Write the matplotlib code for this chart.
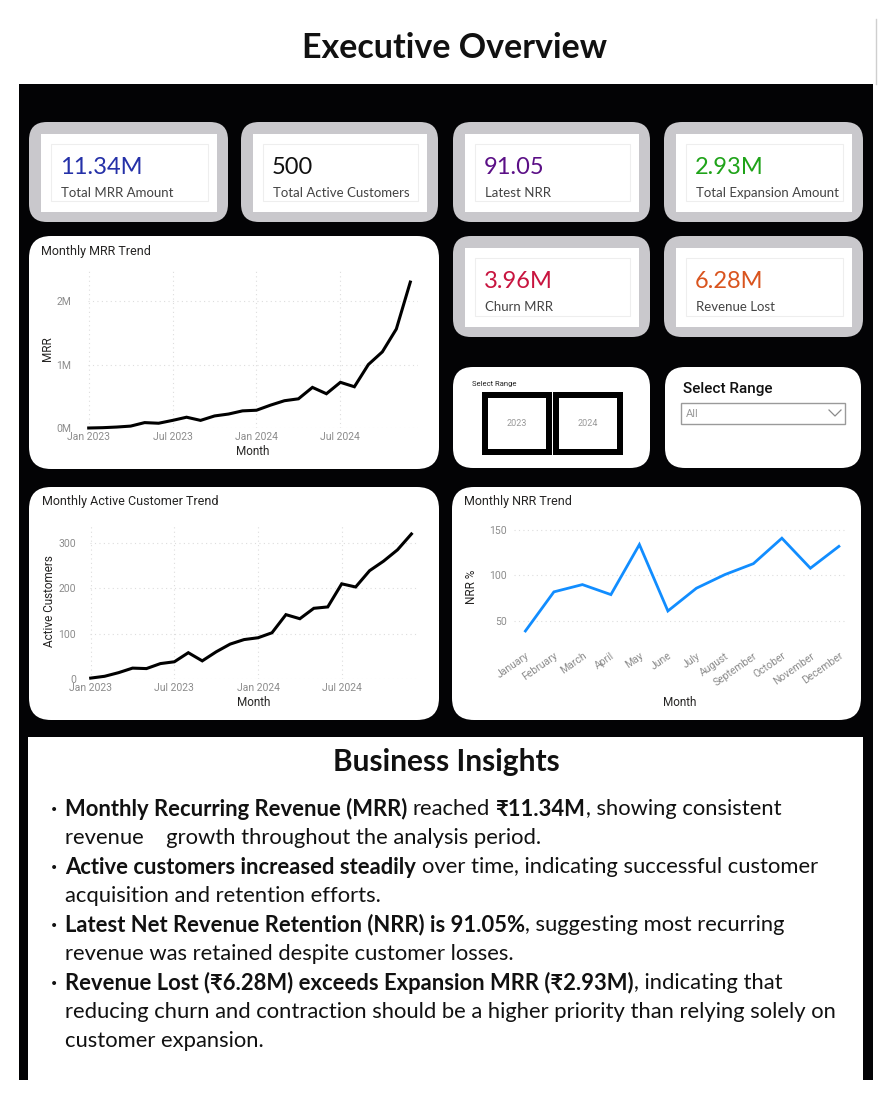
import matplotlib
matplotlib.use('Agg')
import matplotlib.pyplot as plt
from matplotlib.patches import FancyBboxPatch, Rectangle

plt.rcParams['font.family'] = ['Lato', 'DejaVu Sans']

# ---- data ----
kpi_values = ['11.34M', '500', '91.05', '2.93M', '3.96M', '6.28M']
kpi_labels = ['Total MRR Amount', 'Total Active Customers', 'Latest NRR',
              'Total Expansion Amount', 'Churn MRR', 'Revenue Lost']
kpi_colors = ['#2531A8', '#111111', '#5B0F86', '#1FA319', '#C8143F', '#D9541E']

month_idx = list(range(24))
month_ticks = [0, 6, 12, 18]
month_tick_labels = ['Jan 2023', 'Jul 2023', 'Jan 2024', 'Jul 2024']
mrr_m = [0.0, 0.005, 0.015, 0.03, 0.085, 0.075, 0.12, 0.17, 0.12, 0.19, 0.22, 0.27,
         0.28, 0.36, 0.43, 0.46, 0.64, 0.54, 0.72, 0.65, 1.0, 1.2, 1.56, 2.30]
active_customers = [2, 6, 14, 24, 23, 34, 38, 58, 40, 60, 77, 87,
                    91, 102, 142, 133, 156, 159, 210, 203, 239, 260, 285, 320]

nrr_months = ['January', 'February', 'March', 'April', 'May', 'June', 'July',
              'August', 'September', 'October', 'November', 'December']
nrr_pct = [39, 82, 90, 79, 134, 61, 86, 101, 113, 141, 108, 132]

slicer_years = ['2023', '2024']

insight_lines = [
    [('Monthly Recurring Revenue (MRR)', True), (' reached ', False), ('₹11.34M', True),
     (', showing consistent', False)],
    [('revenue    growth throughout the analysis period.', False)],
    [('Active customers increased steadily', True),
     (' over time, indicating successful customer', False)],
    [('acquisition and retention efforts.', False)],
    [('Latest Net Revenue Retention (NRR) is 91.05%', True),
     (', suggesting most recurring', False)],
    [('revenue was retained despite customer losses.', False)],
    [('Revenue Lost (₹6.28M) exceeds Expansion MRR (₹2.93M)', True),
     (', indicating that', False)],
    [('reducing churn and contraction should be a higher priority than relying solely on', False)],
    [('customer expansion.', False)],
]
bullet_rows = [0, 2, 4, 6]

# ---- canvas ----
W, H = 893, 1100
fig = plt.figure(figsize=(W / 100, H / 100), dpi=100)
bg = fig.add_axes([0, 0, 1, 1])
bg.set_xlim(0, W)
bg.set_ylim(H, 0)
bg.axis('off')


def rbox(x0, y0, x1, y1, r, color, ec='none', lw=0, z=1):
    p = FancyBboxPatch((x0, y0), x1 - x0, y1 - y0,
                       boxstyle=f'round,pad=0,rounding_size={r}',
                       fc=color, ec=ec, lw=lw, zorder=z)
    bg.add_patch(p)


def px_axes(x0, y0, x1, y1):
    return fig.add_axes([x0 / W, 1 - y1 / H, (x1 - x0) / W, (y1 - y0) / H])


bg.text(454, 48, 'Executive Overview', ha='center', va='center',
        fontsize=24.5, fontweight='bold', color='#111111')
bg.plot([876, 876], [19, 84], color='#cfcfcf', lw=1)
bg.add_patch(Rectangle((19, 84), 854, 996, fc='#030305', ec='none', zorder=0))

# KPI cards
card_pos = [(29, 228, 122, 222), (241, 438, 122, 222), (453, 650, 122, 222),
            (664, 863, 122, 222), (453, 650, 236, 337), (664, 863, 236, 337)]
for (x0, x1, y0, y1), val, lab, col in zip(card_pos, kpi_values, kpi_labels, kpi_colors):
    rbox(x0, y0, x1, y1, 18, '#C9C8CC')
    bg.add_patch(Rectangle((x0 + 12, y0 + 12), (x1 - 11) - (x0 + 12), (y1 - 10) - (y0 + 12),
                           fc='white', ec='none', zorder=2))
    bg.add_patch(Rectangle((x0 + 22, y0 + 22), (x1 - 20) - (x0 + 22), (y1 - 21) - (y0 + 22),
                           fc='white', ec='#eeeeee', lw=0.8, zorder=3))
    bg.text(x0 + 31, y0 + 46, val, ha='left', va='center', fontsize=17,
            color=col, zorder=4)
    bg.text(x0 + 32, y0 + 71, lab, ha='left', va='center', fontsize=9.5,
            color='#444444', zorder=4)

# chart cards
rbox(29, 236, 439, 469, 22, 'white')
rbox(29, 487, 439, 720, 22, 'white')
rbox(452, 487, 861, 720, 22, 'white')
rbox(453, 367, 650, 468, 20, 'white')
rbox(665, 367, 861, 468, 20, 'white')

title_kw = dict(ha='left', va='center', fontsize=9, color='#252423', family=['Roboto', 'DejaVu Sans'])
bg.text(41, 251, 'Monthly MRR Trend', **title_kw)
bg.text(42, 502, 'Monthly Active Customer Trend', **title_kw)
bg.text(464, 502, 'Monthly NRR Trend', **title_kw)

# slicers
bg.text(472, 384, 'Select Range', ha='left', va='center', fontsize=5.5,
        color='#222222', family=['Roboto', 'DejaVu Sans'])
for i, yr in enumerate(slicer_years):
    sx = 482 + i * 71
    bg.add_patch(Rectangle((sx, 392), 70, 63, fc='black', ec='none', zorder=2))
    bg.add_patch(Rectangle((sx + 6, 398), 58, 51, fc='white', ec='none', zorder=3))
    bg.text(sx + 35, 424, yr, ha='center', va='center', fontsize=6.5,
            color='#999999', zorder=4, family=['Roboto', 'DejaVu Sans'])

bg.text(683, 389, 'Select Range', ha='left', va='center', fontsize=11,
        color='#111111', fontweight='medium', family=['Roboto', 'DejaVu Sans'])
bg.add_patch(Rectangle((681, 403), 164, 21, fc='white', ec='#9a9a9a', lw=1, zorder=2))
bg.text(686, 414, 'All', ha='left', va='center', fontsize=8, color='#9a9a9a',
        zorder=3, family=['Roboto', 'DejaVu Sans'])
bg.plot([829, 835, 841], [410, 416, 410], color='#8a8a8a', lw=0.9, zorder=3)

# ---- charts ----
tick_col = '#8c8c8c'
lab_col = '#252423'
chart_font = ['Roboto', 'DejaVu Sans']


def style(ax):
    for s in ax.spines.values():
        s.set_visible(False)
    ax.tick_params(length=0, labelsize=7.5, labelcolor=tick_col)
    for t in ax.get_xticklabels() + ax.get_yticklabels():
        t.set_family(chart_font)
    ax.set_facecolor('none')


ax1 = px_axes(88, 270, 418, 428)
ax1.plot(month_idx, mrr_m, color='black', lw=2.2, clip_on=False, solid_joinstyle='miter')
ax1.set_xlim(-0.05, 23.55)
ax1.set_ylim(0, 2.49)
ax1.set_yticks([0, 1, 2])
ax1.set_yticklabels(['0M', '1M', '2M'])
ax1.set_xticks(month_ticks)
ax1.set_xticklabels(month_tick_labels)
ax1.grid(True, color='#dddddd', ls=(0, (1, 3)), lw=0.8)
ax1.tick_params(axis='y', pad=12)
ax1.tick_params(axis='x', pad=3)
ax1.set_xlabel('Month', fontsize=8.5, color=lab_col, labelpad=2, family=chart_font)
ax1.set_ylabel('MRR', fontsize=8.5, color=lab_col, labelpad=2, family=chart_font)
style(ax1)

ax2 = px_axes(90, 524, 417, 679)
ax2.plot(month_idx, active_customers, color='black', lw=2.2, clip_on=False, solid_joinstyle='miter')
ax2.set_xlim(-0.05, 23.4)
ax2.set_ylim(0, 342)
ax2.set_yticks([0, 100, 200, 300])
ax2.set_xticks(month_ticks)
ax2.set_xticklabels(month_tick_labels)
ax2.grid(True, color='#dddddd', ls=(0, (1, 3)), lw=0.8)
ax2.tick_params(axis='y', pad=10)
ax2.tick_params(axis='x', pad=3)
ax2.set_xlabel('Month', fontsize=8.5, color=lab_col, labelpad=2, family=chart_font)
ax2.set_ylabel('Active Customers', fontsize=8.5, color=lab_col, labelpad=2, family=chart_font)
style(ax2)

ax3 = px_axes(514, 528, 846, 645)
ax3.plot(range(len(nrr_months)), nrr_pct, color='#118DFF', lw=2.0, solid_joinstyle='miter')
ax3.set_xlim(-0.4, 11.25)
ax3.set_ylim(23.6, 152.2)
ax3.set_yticks([50, 100, 150])
ax3.set_xticks(range(len(nrr_months)))
ax3.set_xticklabels(nrr_months, rotation=35, ha='right', rotation_mode='anchor')
ax3.grid(True, axis='y', color='#dddddd', ls=(0, (1, 3)), lw=0.8)
ax3.tick_params(axis='y', pad=5)
ax3.tick_params(axis='x', pad=4)
ax3.set_xlabel('Month', fontsize=8.5, color=lab_col, labelpad=6, family=chart_font)
ax3.set_ylabel('NRR %', fontsize=8.5, color=lab_col, labelpad=8, family=chart_font)
style(ax3)

# ---- insights ----
bg.add_patch(Rectangle((28, 737), 835, 343, fc='white', ec='none', zorder=1))
bg.text(446, 762, 'Business Insights', ha='center', va='center', fontsize=21.5,
        fontweight='bold', color='#111111', zorder=2)

renderer = fig.canvas.get_renderer()
fs = 15.8


def text_w(s, bold):
    t = bg.text(0, 0, s, fontsize=fs, fontweight='bold' if bold else 'normal')
    w = t.get_window_extent(renderer).width
    t.remove()
    return w


space_w = {b: text_w('a a', b) - text_w('aa', b) for b in (True, False)}

for row, segs in enumerate(insight_lines):
    y = 809 + row * 29
    x = 65
    if row in bullet_rows:
        bg.text(54, y + 1, '•', ha='center', va='center', fontsize=10, color='#111111',
                zorder=2, family=['DejaVu Sans'])
    for s, bold in segs:
        lead = len(s) - len(s.lstrip(' '))
        trail = len(s) - len(s.rstrip(' '))
        core = s.strip(' ')
        x += lead * space_w[bold]
        t = bg.text(x, y, core, ha='left', va='center', fontsize=fs,
                    fontweight='bold' if bold else 'normal', color='#111111', zorder=2)
        x += t.get_window_extent(renderer).width + trail * space_w[bold]

fig.savefig('out.png', dpi=100)
